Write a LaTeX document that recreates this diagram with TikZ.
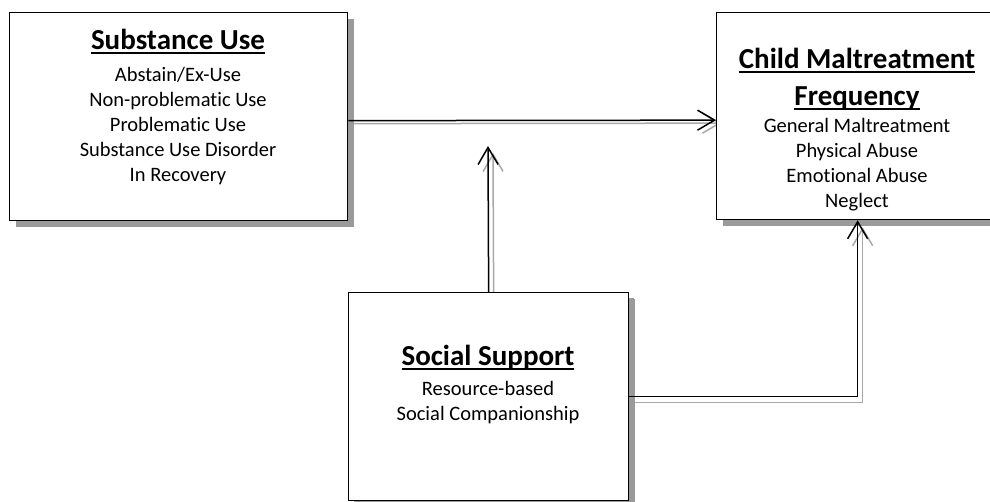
\documentclass[tikz,border=0pt]{standalone}
\usepackage{fontspec}
\setmainfont{Carlito}[Ligatures={TeX,NoCommon}]
\usetikzlibrary{arrows.meta,shadows,backgrounds}
\definecolor{shadowgray}{HTML}{9A9A9A}
\definecolor{arrowgray}{HTML}{A8A8A8}
\newcommand{\ttlu}[1]{\setbox0=\hbox{#1}\rlap{\rule[-4.5pt]{\wd0}{2pt}}\box0}
\newcommand{\titlefnt}{\fontsize{29}{37}\selectfont\bfseries}
\newcommand{\bodyfnt}{\fontsize{20.5}{25}\selectfont}
\begin{document}
\begin{tikzpicture}[x=1pt,y=-1pt,
  box/.style={draw=black, line width=1.3pt, fill=white, rectangle, inner sep=0pt,
    anchor=north west,
    drop shadow={shadow xshift=6pt, shadow yshift=-6pt, fill=shadowgray, opacity=1}},
  ttl/.style={font=\titlefnt, align=center, inner sep=0pt},
  bodytxt/.style={font=\bodyfnt, align=center, inner sep=0pt, anchor=north},
  conn/.style={draw=black, line width=1.5pt, -{Straight Barb[length=17pt,width=20pt]}},
  sconn/.style={draw=arrowgray, line width=1.5pt, -{Straight Barb[length=17pt,width=20pt]}}
]
\clip (0,0) rectangle (990,502);
% boxes
\node[box, minimum width=338pt, minimum height=208pt] (su) at (9,12) {};
\node[box, minimum width=282pt, minimum height=207pt] (cm) at (716,12) {};
\node[box, minimum width=280pt, minimum height=208pt,
  drop shadow={shadow xshift=5pt, shadow yshift=-5pt, fill=shadowgray, opacity=1}] (ss) at (348,292) {};
% texts
\node[ttl, anchor=base] (sut) at (178,50) {\ttlu{Substance Use}};
\node[bodytxt] (sub) at (178,63) {\rule{0pt}{18pt}Abstain/Ex-Use\\Non-problematic Use\\Problematic Use\\Substance Use Disorder\\In Recovery};
\node[ttl, anchor=north] (cmt) at (857,43) {\rule{0pt}{25pt}\ttlu{Child Maltreatment}\\\ttlu{Frequency}};
\node[bodytxt] (cmb) at (857,114) {\rule{0pt}{18pt}General Maltreatment\\Physical Abuse\\Emotional Abuse\\Neglect};
\node[ttl, anchor=base] (sst) at (488,366) {\ttlu{Social Support}};
\node[bodytxt] (ssb) at (488,377) {\rule{0pt}{18pt}Resource-based\\Social Companionship};
% connector end
\coordinate (tip2) at (488,146);
% connector shadows
\begin{scope}[on background layer]
\fill[white] (0,0) rectangle (990,502);
\draw[sconn] ([shift={(5,7)}]su.east) -- ([shift={(5,7)}]cm.west);
\draw[sconn] ([shift={(5,5)}]ss.north) -- ([shift={(5,7)}]tip2);
\draw[sconn] ([shift={(5,6)}]ss.east) -| ([shift={(5,7)}]cm.south);
\end{scope}
% connectors
\draw[conn] ([yshift=-4pt]su.east) -- ([yshift=-4pt]cm.west);
\draw[conn] (ss.north) -- (tip2);
\draw[conn] (ss.east) -| (cm.south);
\end{tikzpicture}
\end{document}
